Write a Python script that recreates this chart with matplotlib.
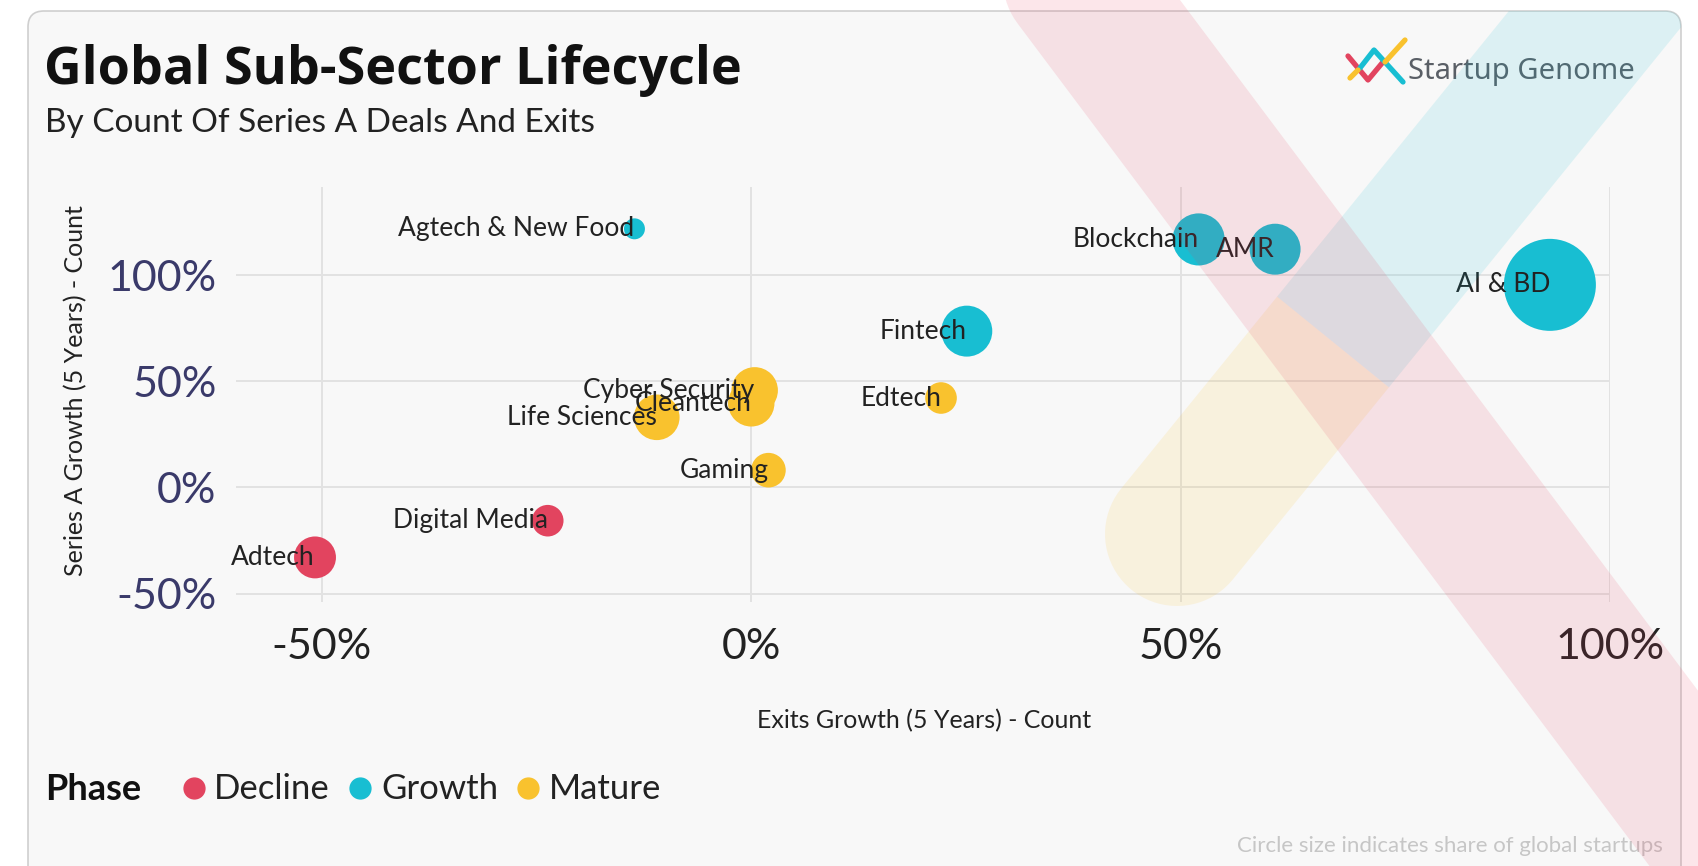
import matplotlib.pyplot as plt
from matplotlib.patches import FancyBboxPatch, Polygon
from matplotlib.lines import Line2D
import numpy as np

# Data (percent growth over 5 years)
sectors = ['Agtech & New Food', 'Blockchain', 'AMR', 'AI & BD', 'Fintech',
           'Cyber Security', 'Cleantech', 'Life Sciences', 'Edtech', 'Gaming',
           'Digital Media', 'Adtech']
exits_growth = [-13.6, 52.1, 61.0, 93.0, 25.1, 0.4, 0.0, -11.0, 22.1, 2.0, -23.7, -50.8]
series_a_growth = [121.8, 116.8, 112.2, 95.4, 73.6, 45.7, 39.6, 33.0, 42.1, 8.1, -15.7, -33.0]
share = [1.1, 6.8, 6.5, 21.2, 6.5, 5.4, 5.4, 5.2, 2.5, 3.0, 2.5, 4.4]
phase = ['Growth', 'Growth', 'Growth', 'Growth', 'Growth', 'Mature', 'Mature',
         'Mature', 'Mature', 'Mature', 'Decline', 'Decline']

phases = ['Decline', 'Growth', 'Mature']
colors = {'Decline': '#E2445F', 'Growth': '#18BED2', 'Mature': '#F9C22E'}

W, H = 1698, 866
fig = plt.figure(figsize=(W / 100, H / 100), dpi=100)
fig.patch.set_facecolor('white')

def fx(x):
    return x / W

def fy(y):
    return 1 - y / H

# card background
card = FancyBboxPatch((28, -20), 1653, H + 20 - 11,
                      boxstyle='round,pad=0,rounding_size=16',
                      transform=None, facecolor='#F8F8F8',
                      edgecolor='#CFCFCF', linewidth=1.2, zorder=-5)
fig.patches.append(card)

ax = fig.add_axes([fx(236), fy(602), fx(1610) - fx(236), fy(187) - fy(602)])
ax.set_facecolor('none')
ax.set_xlim(-60, 100)
ax.set_ylim(-54, 141.5)

for p in phases:
    idx = [i for i, ph in enumerate(phase) if ph == p]
    ax.scatter([exits_growth[i] for i in idx], [series_a_growth[i] for i in idx],
               s=[share[i] * 207 for i in idx], color=colors[p],
               linewidths=0, zorder=3)

for name, x, y in zip(sectors, exits_growth, series_a_growth):
    ax.text(x, y, name, ha='right', va='center', fontsize=19,
            family='Lato', color='#222222', zorder=4)

ax.set_xticks([-50, 0, 50, 100])
ax.set_yticks([-50, 0, 50, 100])
ax.set_xticklabels(['-50%', '0%', '50%', '100%'], family='Lato',
                   fontsize=31, color='#222222')
ax.set_yticklabels(['-50%', '0%', '50%', '100%'], family='Lato',
                   fontsize=31, color='#3A3A6A')
ax.tick_params(axis='x', length=0, pad=19)
ax.tick_params(axis='y', length=0, pad=14)
ax.grid(True, color='#E2E2E2', linewidth=1.4)
for s in ax.spines.values():
    s.set_visible(False)

fig.text(fx(924), fy(721), 'Exits Growth (5 Years) - Count', family='Lato',
         fontsize=18, color='#222222', ha='center', va='center')
fig.text(fx(76), fy(391), 'Series A Growth (5 Years) - Count', family='Lato',
         fontsize=18, color='#222222', ha='center', va='center', rotation=90)

# titles
fig.text(fx(44), fy(84), 'Global Sub-Sector Lifecycle', family='Open Sans',
         fontweight='bold', fontsize=37.5, color='#111111', va='baseline')
fig.text(fx(45), fy(132), 'By Count Of Series A Deals And Exits', family='Lato',
         fontsize=24, color='#222222', va='baseline')

# logo
logo = [([1348, 1368, 1383], [56, 80, 62], '#E2445F'),
        ([1360, 1374, 1403], [68, 50, 82], '#18BED2'),
        ([1350, 1358], [78, 70], '#F9C22E'),
        ([1385, 1405], [62, 40], '#F9C22E')]
for xs, ys, c in logo:
    fig.add_artist(Line2D([fx(v) for v in xs], [fy(v) for v in ys], color=c,
                          linewidth=3.8, solid_capstyle='round',
                          solid_joinstyle='round'))
fig.text(fx(1408), fy(71), 'Startup Genome', family='Noto Sans', fontsize=21,
         color='#5A5F66', va='center')

# legend
fig.text(fx(45), fy(789), 'Phase', family='Lato', fontweight='bold',
         fontsize=26, color='#111111', va='center')
for p, mx, tx in zip(phases, [194, 360, 528], [214, 381, 549]):
    fig.add_artist(Line2D([fx(mx)], [fy(788)], marker='o', markersize=15,
                          color=colors[p], linestyle='none'))
    fig.text(fx(tx), fy(789), p, family='Lato', fontsize=25,
             color='#222222', va='center')

fig.text(fx(1663), fy(846), 'Circle size indicates share of global startups',
         family='Lato', fontsize=16, color='#C6C6C6', ha='right', va='center')

# decorative background bands (translucent, over the chart)
def band(p0, p1, hw, round0, round1, c, a, clip=False):
    p0, p1 = np.array(p0, float), np.array(p1, float)
    d = (p1 - p0) / np.hypot(*(p1 - p0))
    nv = np.array([-d[1], d[0]])
    t = np.linspace(0, np.pi, 40)
    pts = [p0 + hw * nv]
    if round1:
        pts += list(p1 + hw * (np.outer(np.cos(t), nv) + np.outer(np.sin(t), d)))
    else:
        pts += [p1 + hw * nv, p1 - hw * nv]
    if round0:
        pts += list(p0 - hw * (np.outer(np.cos(t), nv) + np.outer(np.sin(t), d)))
    else:
        pts += [p0 - hw * nv]
    pts = np.array(pts)
    poly = Polygon(np.column_stack([pts[:, 0] / W, 1 - pts[:, 1] / H]),
                   closed=True, transform=fig.transFigure, facecolor=c,
                   alpha=a, linewidth=0, zorder=10)
    fig.add_artist(poly)
    if clip:
        poly.set_clip_path(card)

band((1177, 534), (1333, 342), 72, True, False, '#F9C22E', 0.13)
band((1333, 342), (1720, -135), 72, False, False, '#18BED2', 0.12, clip=True)
band((1075, -20), (1780, 920), 72, True, False, '#E8405E', 0.13)

fig.savefig('out.png', dpi=100, facecolor=fig.get_facecolor())
